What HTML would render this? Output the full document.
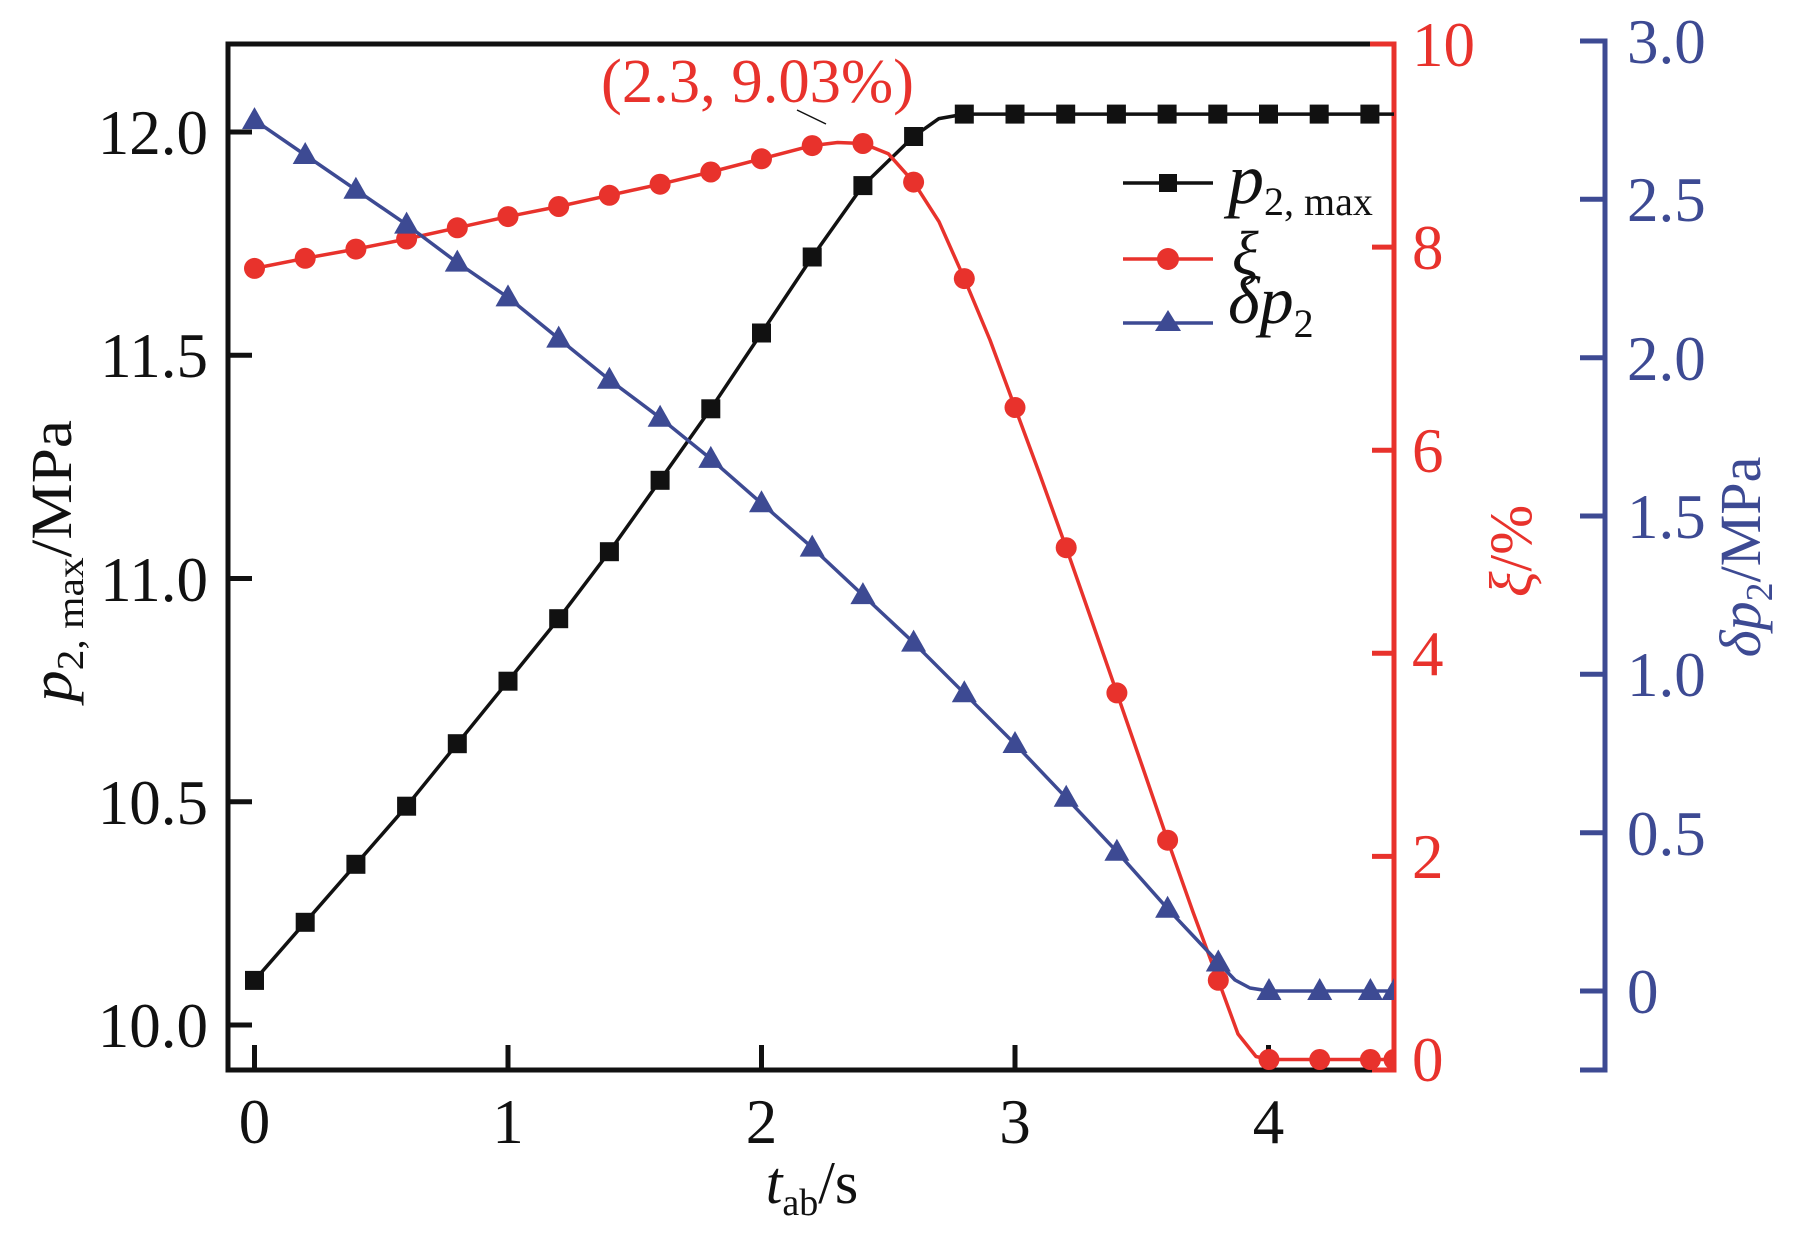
<!DOCTYPE html>
<html><head><meta charset="utf-8"><style>
html,body{margin:0;padding:0;background:#fff;}
svg{display:block;font-family:"Liberation Serif","Times New Roman",serif;}
</style></head><body>
<svg width="1819" height="1240" viewBox="0 0 1819 1240" xmlns="http://www.w3.org/2000/svg">
<defs>
<clipPath id="c"><rect x="228" y="40" width="1166" height="1040"/></clipPath>
<rect id="sq" x="-9.5" y="-9.5" width="19" height="19" fill="#111"/>
<circle id="ci" r="10.5" fill="#e8322c"/>
<polygon id="tr" points="0,-13 12.5,9 -12.5,9" fill="#3d4a93"/>
</defs>
<rect width="1819" height="1240" fill="#fff"/>

<g stroke="#111" stroke-width="5" fill="none">
<line x1="228" y1="44" x2="1380" y2="44"/>
<line x1="228" y1="41.5" x2="228" y2="1072.5"/>
<line x1="225.5" y1="1070" x2="1372" y2="1070"/>
<line x1="228" y1="1025" x2="252" y2="1025"/>
<line x1="228" y1="801.75" x2="252" y2="801.75"/>
<line x1="228" y1="578.5" x2="252" y2="578.5"/>
<line x1="228" y1="355.25" x2="252" y2="355.25"/>
<line x1="228" y1="132" x2="252" y2="132"/>
<line x1="254.5" y1="1070" x2="254.5" y2="1045"/>
<line x1="508" y1="1070" x2="508" y2="1045"/>
<line x1="761.5" y1="1070" x2="761.5" y2="1045"/>
<line x1="1015" y1="1070" x2="1015" y2="1045"/>
<line x1="1268.5" y1="1070" x2="1268.5" y2="1045"/>
</g>
<g font-size="63" fill="#111" text-anchor="end">
<text x="208" y="1047">10.0</text>
<text x="208" y="824">10.5</text>
<text x="208" y="601">11.0</text>
<text x="208" y="377">11.5</text>
<text x="208" y="154">12.0</text>
</g>
<g font-size="63" fill="#111" text-anchor="middle">
<text x="254.5" y="1143">0</text>
<text x="508" y="1143">1</text>
<text x="761.5" y="1143">2</text>
<text x="1015" y="1143">3</text>
<text x="1268.5" y="1143">4</text>
</g>

<g stroke="#e8322c" stroke-width="5" fill="none">
<line x1="1370" y1="44" x2="1396" y2="44"/>
<line x1="1394" y1="41.5" x2="1394" y2="1072.5"/>
<line x1="1372" y1="1070" x2="1394" y2="1070"/>
<line x1="1394" y1="247.1" x2="1372" y2="247.1"/>
<line x1="1394" y1="450.2" x2="1372" y2="450.2"/>
<line x1="1394" y1="653.3" x2="1372" y2="653.3"/>
<line x1="1394" y1="856.4" x2="1372" y2="856.4"/>
</g>
<g font-size="63" fill="#e8322c">
<text x="1412" y="66">10</text>
<text x="1412" y="269">8</text>
<text x="1412" y="472">6</text>
<text x="1412" y="675">4</text>
<text x="1412" y="878">2</text>
<text x="1412" y="1081">0</text>
</g>

<g stroke="#3d4a93" stroke-width="5" fill="none">
<line x1="1605" y1="38.5" x2="1605" y2="1072.5"/>
<line x1="1580" y1="41" x2="1605" y2="41"/>
<line x1="1580" y1="199.3" x2="1605" y2="199.3"/>
<line x1="1580" y1="357.7" x2="1605" y2="357.7"/>
<line x1="1580" y1="516" x2="1605" y2="516"/>
<line x1="1580" y1="674.3" x2="1605" y2="674.3"/>
<line x1="1580" y1="832.7" x2="1605" y2="832.7"/>
<line x1="1580" y1="991" x2="1605" y2="991"/>
<line x1="1580" y1="1070" x2="1605" y2="1070"/>
</g>
<g font-size="63" fill="#3d4a93">
<text x="1627" y="63">3.0</text>
<text x="1627" y="221">2.5</text>
<text x="1627" y="380">2.0</text>
<text x="1627" y="538">1.5</text>
<text x="1627" y="696">1.0</text>
<text x="1627" y="855">0.5</text>
<text x="1627" y="1013">0</text>
</g>

<g clip-path="url(#c)">
<polyline fill="none" stroke="#111" stroke-width="3.5" stroke-linejoin="round" points="254.5,980.4 305.2,922.3 355.9,864.3 406.6,806.2 457.3,743.7 508,681.2 558.7,618.7 609.4,551.7 660.1,480.3 710.8,408.8 761.5,333 812.2,257 862.9,185.6 913.6,136.5 938.9,118.6 964.3,114.1 1400,114.1"/>
<g>
<use href="#sq" x="254.5" y="980.4"/><use href="#sq" x="305.2" y="922.3"/><use href="#sq" x="355.9" y="864.3"/><use href="#sq" x="406.6" y="806.2"/><use href="#sq" x="457.3" y="743.7"/><use href="#sq" x="508" y="681.2"/><use href="#sq" x="558.7" y="618.7"/><use href="#sq" x="609.4" y="551.7"/><use href="#sq" x="660.1" y="480.3"/><use href="#sq" x="710.8" y="408.8"/><use href="#sq" x="761.5" y="333"/><use href="#sq" x="812.2" y="257"/><use href="#sq" x="862.9" y="185.6"/><use href="#sq" x="913.6" y="136.5"/>
<use href="#sq" x="964.3" y="114.1"/><use href="#sq" x="1015" y="114.1"/><use href="#sq" x="1065.7" y="114.1"/><use href="#sq" x="1116.4" y="114.1"/><use href="#sq" x="1167.1" y="114.1"/><use href="#sq" x="1217.8" y="114.1"/><use href="#sq" x="1268.5" y="114.1"/><use href="#sq" x="1319.2" y="114.1"/><use href="#sq" x="1369.9" y="114.1"/>
</g>

<polyline fill="none" stroke="#e8322c" stroke-width="3.5" stroke-linejoin="round" points="254.5,268.4 305.2,258.3 355.9,249.1 406.6,239 457.3,227.8 508,216.6 558.7,206.5 609.4,195.3 660.1,184.2 710.8,172 761.5,158.8 812.2,145.6 837.6,142.5 862.9,143.5 888.3,153.7 913.6,182.1 939,221.7 964.3,278.6 990,340 1015,407.5 1040,475 1066.2,547.7 1091.5,620 1116.9,692.9 1142.2,766 1167.6,840.2 1193,912 1218.3,980.3 1238,1034 1256,1056.5 1269,1059.5 1400,1059.5"/>
<g>
<use href="#ci" x="254.5" y="268.4"/><use href="#ci" x="305.2" y="258.3"/><use href="#ci" x="355.9" y="249.1"/><use href="#ci" x="406.6" y="239"/><use href="#ci" x="457.3" y="227.8"/><use href="#ci" x="508" y="216.6"/><use href="#ci" x="558.7" y="206.5"/><use href="#ci" x="609.4" y="195.3"/><use href="#ci" x="660.1" y="184.2"/><use href="#ci" x="710.8" y="172"/><use href="#ci" x="761.5" y="158.8"/><use href="#ci" x="812.2" y="145.6"/><use href="#ci" x="862.9" y="143.5"/><use href="#ci" x="913.6" y="182.1"/><use href="#ci" x="964.3" y="278.6"/><use href="#ci" x="1015" y="407.5"/><use href="#ci" x="1066.2" y="547.7"/><use href="#ci" x="1116.9" y="692.9"/><use href="#ci" x="1167.6" y="840.2"/><use href="#ci" x="1218.3" y="980.3"/><use href="#ci" x="1269" y="1059.5"/><use href="#ci" x="1319.7" y="1059.5"/><use href="#ci" x="1370.4" y="1059.5"/><use href="#ci" x="1394" y="1059.5"/>
</g>

<polyline fill="none" stroke="#3d4a93" stroke-width="3.5" stroke-linejoin="round" points="254.5,120.1 305.2,155 355.9,189.8 406.6,224.6 457.3,262.6 508,297.4 558.7,338.6 609.4,379.8 660.1,417.8 710.8,458.9 761.5,503.3 812.2,547.6 862.9,595.1 913.6,642.6 964.3,693.3 1015,744 1066.2,797.8 1116.9,851.7 1167.6,908.7 1218.3,962.5 1235,980 1250,988 1269,991 1400,991"/>
<g>
<use href="#tr" x="254.5" y="120.1"/><use href="#tr" x="305.2" y="155"/><use href="#tr" x="355.9" y="189.8"/><use href="#tr" x="406.6" y="224.6"/><use href="#tr" x="457.3" y="262.6"/><use href="#tr" x="508" y="297.4"/><use href="#tr" x="558.7" y="338.6"/><use href="#tr" x="609.4" y="379.8"/><use href="#tr" x="660.1" y="417.8"/><use href="#tr" x="710.8" y="458.9"/><use href="#tr" x="761.5" y="503.3"/><use href="#tr" x="812.2" y="547.6"/><use href="#tr" x="862.9" y="595.1"/><use href="#tr" x="913.6" y="642.6"/><use href="#tr" x="964.3" y="693.3"/><use href="#tr" x="1015" y="744"/><use href="#tr" x="1066.2" y="797.8"/><use href="#tr" x="1116.9" y="851.7"/><use href="#tr" x="1167.6" y="908.7"/><use href="#tr" x="1218.3" y="962.5"/><use href="#tr" x="1269" y="991"/><use href="#tr" x="1319.7" y="991"/><use href="#tr" x="1370.4" y="991"/><use href="#tr" x="1394" y="991"/>
</g>
</g>

<text x="601" y="102" font-size="62" fill="#e8322c" textLength="313" lengthAdjust="spacingAndGlyphs">(2.3, 9.03%)</text>
<line x1="797" y1="110" x2="826" y2="124" stroke="#111" stroke-width="1.5"/>

<line x1="1123" y1="183" x2="1213" y2="183" stroke="#111" stroke-width="3.5"/>
<rect x="1159" y="174" width="18" height="18" fill="#111"/>
<line x1="1123" y1="259" x2="1213" y2="259" stroke="#e8322c" stroke-width="3.5"/>
<circle cx="1168" cy="259" r="11" fill="#e8322c"/>
<line x1="1123" y1="323" x2="1213" y2="323" stroke="#3d4a93" stroke-width="3.5"/>
<polygon points="1168,310 1181,331 1155,331" fill="#3d4a93"/>
<text x="1228" y="203" font-size="72" fill="#111"><tspan font-style="italic">p</tspan><tspan font-size="40" dy="12">2, max</tspan></text>
<text x="1232" y="274" font-size="62" fill="#111" font-style="italic">ξ</text>
<text x="1228" y="323" font-size="68" fill="#111"><tspan font-style="italic">δp</tspan><tspan font-size="40" dy="14">2</tspan></text>

<text transform="translate(71,702) rotate(-90)" font-size="58" fill="#111" textLength="282" lengthAdjust="spacingAndGlyphs"><tspan font-style="italic">p</tspan><tspan font-size="38" dy="12">2, max</tspan><tspan dy="-12">/MPa</tspan></text>
<text x="812" y="1203" font-size="60" fill="#111" text-anchor="middle"><tspan font-style="italic">t</tspan><tspan font-size="38" dy="12">ab</tspan><tspan dy="-12">/s</tspan></text>
<text transform="translate(1531,551) rotate(-90)" font-size="60" fill="#e8322c" text-anchor="middle"><tspan font-style="italic">ξ</tspan>/%</text>
<text transform="translate(1760,557) rotate(-90)" font-size="58" fill="#3d4a93" text-anchor="middle"><tspan font-style="italic">δp</tspan><tspan font-size="38" dy="12">2</tspan><tspan dy="-12">/MPa</tspan></text>
</svg>
</body></html>
